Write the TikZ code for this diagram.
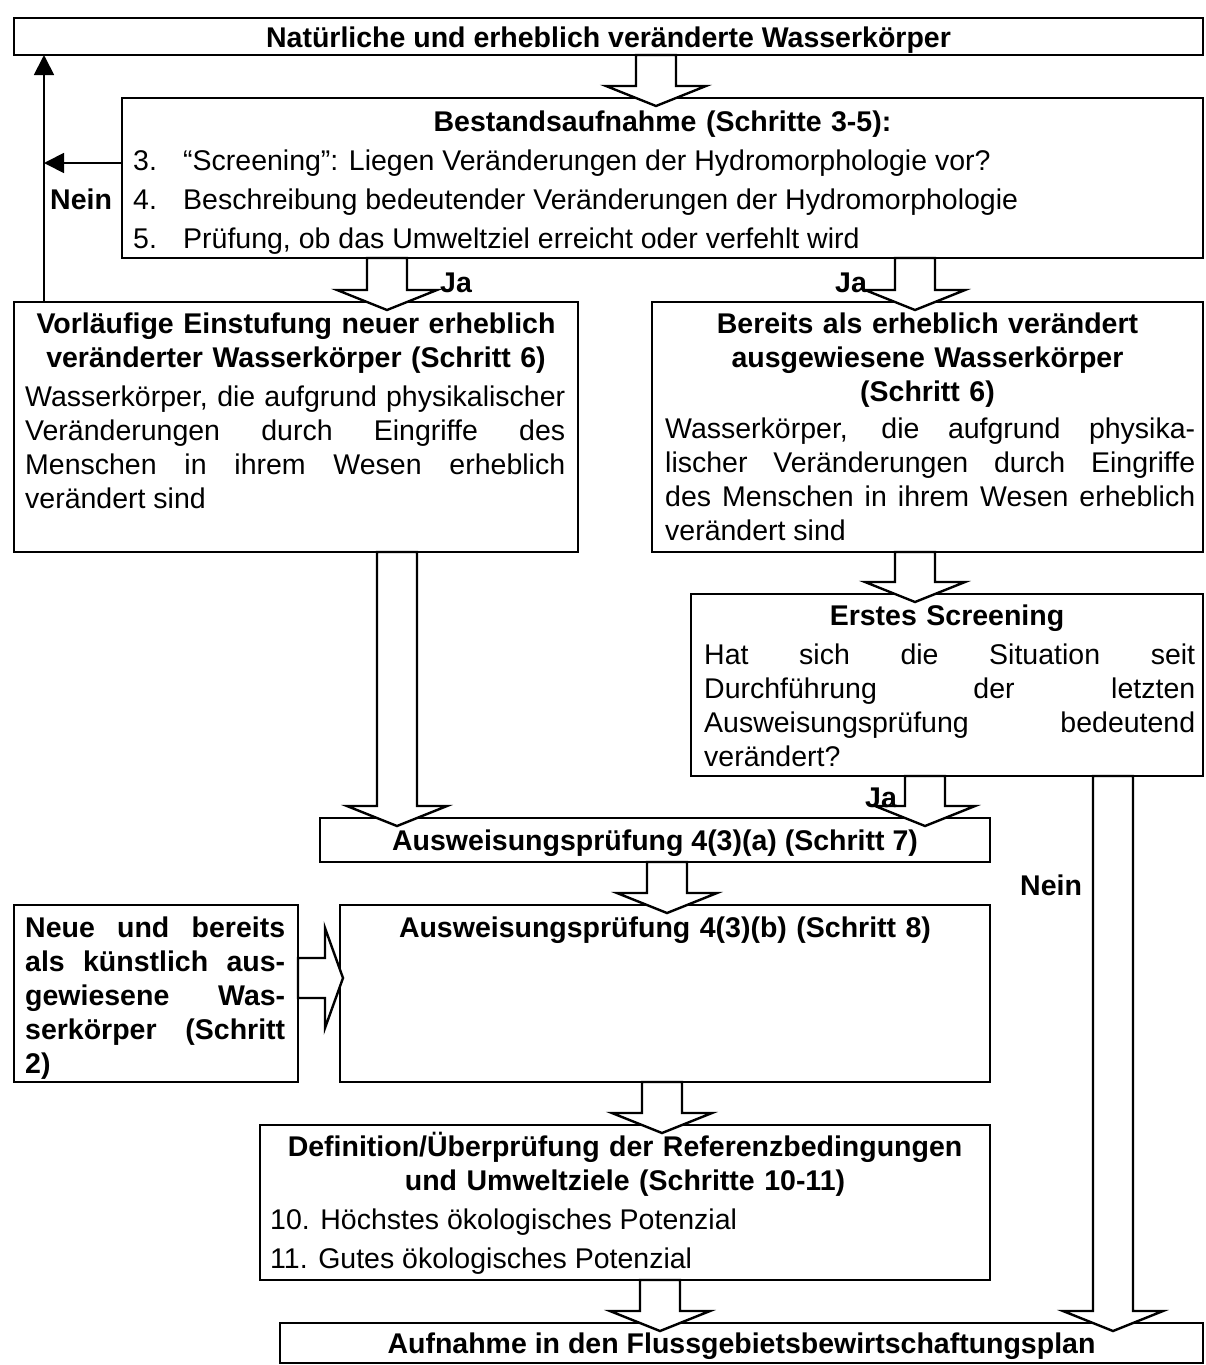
\documentclass[tikz,border=0pt]{standalone}
\usepackage{fontspec}
\setmainfont{Liberation Sans}
\usetikzlibrary{positioning,calc,arrows.meta}
\setlength{\parindent}{0pt}
\newcommand{\linestrut}{\rule{0pt}{27pt}}
\newcommand{\jl}[1]{{\spaceskip=0pt\xspaceskip=0pt\makebox[\hsize][s]{#1}}}
\newcommand{\mainsize}{\fontsize{28.5}{34}\selectfont}

\tikzset{
  frame/.style={draw, line width=2.6pt, inner sep=0pt, outer sep=0pt, font=\mainsize\bfseries, execute at begin node=\linestrut},
  ttl/.style={inner sep=0pt, font=\mainsize\bfseries, align=center, execute at begin node=\linestrut},
  body/.style={inner sep=0pt, anchor=north west, font=\mainsize, align=left,
    execute at begin node={\spaceskip=0pt\xspaceskip=0pt\linestrut}},
  lbl/.style={inner sep=0pt, anchor=base west, font=\mainsize\bfseries},
  nein/.style={line width=1.8pt, -{Triangle[length=20pt,width=20pt]}},
  blockdown/.style={draw, fill=white, line width=2.4pt, to path={
    let \p1=(\tikztostart), \p2=(\tikztotarget) in
    (\x1-20pt,\y1) -- (\x1-20pt,\y2+12pt) -- (\x1-50pt,\y2+12pt) -- (\x1,\y2-8pt)
    -- (\x1+50pt,\y2+12pt) -- (\x1+20pt,\y2+12pt) -- (\x1+20pt,\y1) -- cycle}},
  blockright/.style={draw, fill=white, line width=2.4pt, to path={
    let \p1=(\tikztostart), \p2=(\tikztotarget) in
    (\x1,\y1-20pt) -- (\x2-15pt,\y1-20pt) -- (\x2-15pt,\y1-50pt) -- (\x2+3pt,\y1)
    -- (\x2-15pt,\y1+50pt) -- (\x2-15pt,\y1+20pt) -- (\x1,\y1+20pt) -- cycle}}
}

\begin{document}
\begin{tikzpicture}[x=1pt,y=-1pt]
\useasboundingbox (0,0) rectangle (1205,1365);

% frames
\node[frame, minimum width=1189pt, minimum height=37pt] (natur) at (608.5,36.5) {Natürliche und erheblich veränderte Wasserkörper};
\node[frame, minimum width=1081pt, minimum height=160pt] (bestand) at (662.5,178) {};
\node[frame, minimum width=564pt, minimum height=250pt] (vorl) at (296,427) {};
\node[frame, minimum width=551pt, minimum height=250pt] (bereits) at (927.5,427) {};
\node[frame, minimum width=512pt, minimum height=182pt] (screen) at (947,685) {};
\node[frame, minimum width=670pt, minimum height=44pt] (pruefa) at (655,840) {Ausweisungsprüfung 4(3)(a) (Schritt 7)};
\node[frame, minimum width=650pt, minimum height=177pt] (pruefb) at (665,993.5) {};
\node[frame, minimum width=284pt, minimum height=177pt] (kuenst) at (156,993.5) {};
\node[frame, minimum width=730pt, minimum height=155pt] (defin) at (625,1202.5) {};
\node[frame, minimum width=923pt, minimum height=40pt] (plan) at (741.5,1343) {Aufnahme in den Flussgebietsbewirtschaftungsplan};

% block arrows
\coordinate (c1) at (656,0);
\coordinate (c2) at (387,0);
\coordinate (c3) at (915,0);
\coordinate (c4) at (397,0);
\coordinate (c5) at (915,0);
\coordinate (c6) at (925,0);
\coordinate (c7) at (1113,0);
\coordinate (c8) at (667,0);
\coordinate (c9) at (0,978);
\coordinate (c10) at (662,0);
\coordinate (c11) at (660,0);
\draw[blockdown] (natur.south -| c1) to (bestand.north -| c1);
\draw[blockdown] (bestand.south -| c2) to (vorl.north -| c2);
\draw[blockdown] (bestand.south -| c3) to (bereits.north -| c3);
\draw[blockdown] (vorl.south -| c4) to (pruefa.north -| c4);
\draw[blockdown] (bereits.south -| c5) to (screen.north -| c5);
\draw[blockdown] (screen.south -| c6) to (pruefa.north -| c6);
\draw[blockdown] (screen.south -| c7) to (plan.north -| c7);
\draw[blockdown] (pruefa.south -| c8) to (pruefb.north -| c8);
\draw[blockright] (kuenst.east |- c9) to (pruefb.west |- c9);
\draw[blockdown] (pruefb.south -| c10) to (defin.north -| c10);
\draw[blockdown] (defin.south -| c11) to (plan.north -| c11);

% Nein loop
\coordinate (nx) at (44,163);
\draw[nein] (vorl.north -| nx) -- (natur.south -| nx);
\draw[nein] (bestand.west |- nx) -- (nx);

% texts
\node[ttl, text width=1000pt, below=6pt of bestand.north] (bestandt) {Bestandsaufnahme (Schritte 3-5):};
\node[body, text width=1060pt] (bestandb) at (133,143) {\makebox[50pt][l]{3.}“Screening”: Liegen Veränderungen der Hydromorphologie vor?\\[5pt]
  \makebox[50pt][l]{4.}Beschreibung bedeutender Veränderungen der Hydromorphologie\\[5pt]
  \makebox[50pt][l]{5.}Prüfung, ob das Umweltziel erreicht oder verfehlt wird};

\node[ttl, text width=550pt, below=4pt of vorl.north] (vorlt) {Vorläufige Einstufung neuer erheblich\\veränderter Wasserkörper (Schritt 6)};
\node[body, text width=540pt] (vorlb) at (25,379) {\jl{Wasserkörper, die aufgrund physikalischer}\\
  \jl{Veränderungen durch Eingriffe des}\\
  \jl{Menschen in ihrem Wesen erheblich}\\
  verändert sind};

\node[ttl, text width=540pt, below=4pt of bereits.north] (bereitst) {Bereits als erheblich verändert\\ausgewiesene Wasserkörper\\(Schritt 6)};
\node[body, text width=530pt] (bereitsb) at (665,411) {\jl{Wasserkörper, die aufgrund physika-}\\
  \jl{lischer Veränderungen durch Eingriffe}\\
  \jl{des Menschen in ihrem Wesen erheblich}\\
  verändert sind};

\node[ttl, text width=500pt, below=4pt of screen.north] (screent) {Erstes Screening};
\node[body, text width=491pt] (screenb) at (704,637) {\jl{Hat sich die Situation seit}\\
  \jl{Durchführung der letzten}\\
  \jl{Ausweisungsprüfung bedeutend}\\
  verändert?};

\node[ttl, text width=640pt, below=5pt of pruefb.north] (pruefbt) {Ausweisungsprüfung 4(3)(b) (Schritt 8)};

\node[body, text width=260pt, font=\mainsize\bfseries] (kuenstb) at (25,910) {\jl{Neue und bereits}\\
  \jl{als künstlich aus-}\\
  \jl{gewiesene Was-}\\
  \jl{serkörper (Schritt}\\
  2)};

\node[ttl, text width=720pt, below=4pt of defin.north] (defint) {Definition/Überprüfung der Referenzbedingungen\\und Umweltziele (Schritte 10-11)};
\node[body, text width=700pt] (definb) at (270,1202) {10. Höchstes ökologisches Potenzial\\[5pt]
  11. Gutes ökologisches Potenzial};

% labels
\node[lbl] (ja1) at (440,292) {Ja};
\node[lbl] (ja2) at (835,292) {Ja};
\node[lbl] (ja3) at (865,807) {Ja};
\node[lbl] (nein1) at (50,209) {Nein};
\node[lbl] (nein2) at (1020,895) {Nein};

\end{tikzpicture}
\end{document}
